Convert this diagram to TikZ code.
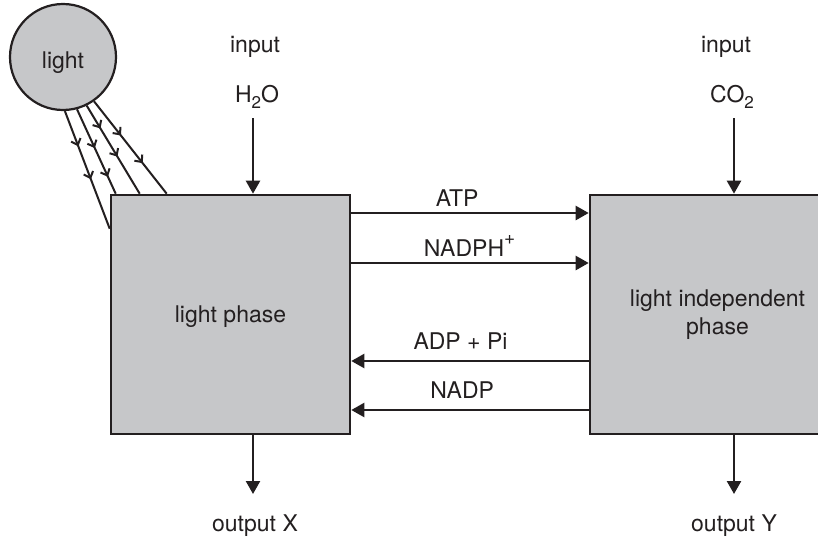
\documentclass[tikz,border=0pt]{standalone}
\usepackage{fontspec}
\setmainfont{TeX Gyre Heros}
\usetikzlibrary{arrows.meta,decorations.markings}
\definecolor{boxgray}{HTML}{C6C7C9}
\definecolor{ink}{HTML}{231F20}
\newcommand{\mysub}[1]{\raisebox{-0.28em}{\fontsize{17}{17}\selectfont #1}}
\newcommand{\mysup}[1]{\raisebox{0.52em}{\fontsize{19}{19}\selectfont #1}}
\begin{document}
\begin{tikzpicture}[x=1pt,y=-1pt,
  every node/.style={font=\fontsize{23}{28}\selectfont, text=ink},
  phasebox/.style={draw=ink, fill=boxgray, line width=2.6pt, inner sep=0pt, minimum height=239pt},
  flow/.style={draw=ink, line width=2.4pt, -{Triangle[length=13pt,width=14pt]}},
  lbl/.style={anchor=base},
  rayline/.style 2 args={draw=ink, line width=2pt, postaction={decorate},
    decoration={markings,
      mark=at position #1 with {\arrow[line width=2pt]{Straight Barb[length=5.5pt,width=10pt]}},
      mark=at position #2 with {\arrow[line width=2pt]{Straight Barb[length=5.5pt,width=10pt]}}}},
]
\clip (0,0) rectangle (818,538);

% boxes and sun
\node[phasebox, minimum width=239pt, text depth=0pt] (lp) at (230.5,314.5) {light phase};
\node[phasebox, minimum width=255pt, align=center] (rp) at (717.5,314.5) {light independent\\phase};
\node[circle, draw=ink, fill=boxgray, line width=2.2pt, minimum size=106pt, inner sep=0pt] (light) at (63,57) {};
\node[lbl] (lightlbl) at (63,68) {light};

% light rays
\draw[rayline={0.30}{0.58}] (light.-88) -- ([yshift=-35pt]lp.north west);
\draw[rayline={0.46}{0.80}] (light.-75) -- ([xshift=6pt]lp.north west);
\draw[rayline={0.26}{0.58}] (light.-64) -- ([xshift=30pt]lp.north west);
\draw[rayline={0.37}{0.67}] (light.-55) -- ([xshift=57pt]lp.north west);

% inputs
\node[lbl] (in1lbl) at (255,52) {input};
\node[lbl] (h2o) at (257,102) {H\mysub{2}O};
\node[lbl] (in2lbl) at (726,52) {input};
\node[lbl] (co2) at (732,102) {CO\mysub{2}};
\coordinate (in1) at (253,118);
\coordinate (in2) at (734,118);
\draw[flow] (in1) -- (in1 |- lp.north);
\draw[flow] (in2) -- (in2 |- rp.north);

% outputs
\coordinate (out1) at (253,494);
\coordinate (out2) at (734,494);
\draw[flow] (out1 |- lp.south) -- (out1);
\draw[flow] (out2 |- rp.south) -- (out2);
\node[lbl] (ox) at (255,531) {output X};
\node[lbl] (oy) at (734,531) {output Y};

% exchanges
\draw[flow] ([yshift=101.5pt]lp.east) -- node[lbl, pos=0.446, yshift=7pt] {ATP} ([yshift=101.5pt]rp.west);
\draw[flow] ([yshift=51.5pt]lp.east) -- node[lbl, pos=0.498, yshift=7pt] {NADPH\mysup{+}} ([yshift=51.5pt]rp.west);
\draw[flow] ([yshift=-46.5pt]rp.west) -- node[lbl, pos=0.54, yshift=12pt] {ADP + Pi} ([yshift=-46.5pt]lp.east);
\draw[flow] ([yshift=-95.5pt]rp.west) -- node[lbl, pos=0.533, yshift=12pt] {NADP} ([yshift=-95.5pt]lp.east);
\end{tikzpicture}
\end{document}
